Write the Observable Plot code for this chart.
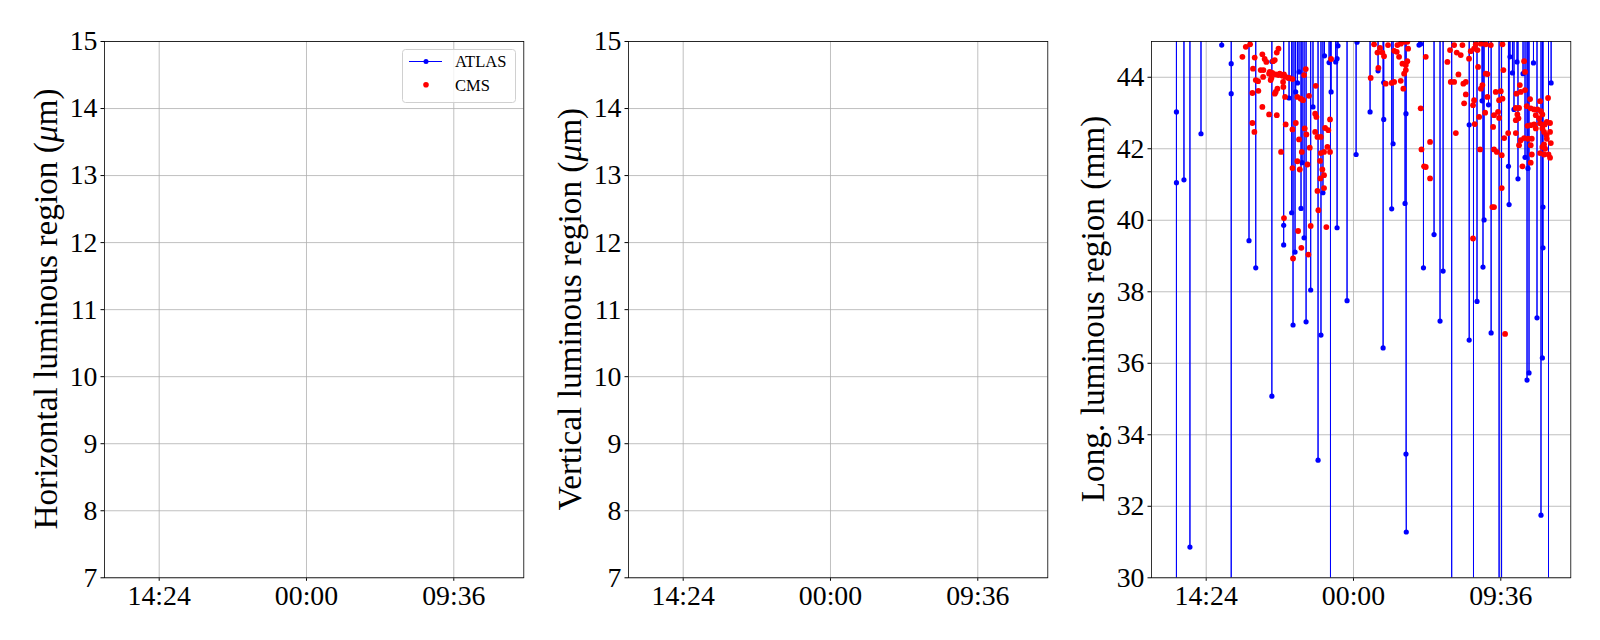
<!DOCTYPE html>
<html>
<head>
<meta charset="utf-8">
<script src="https://cdn.jsdelivr.net/npm/d3@7"></script>
<script src="https://cdn.jsdelivr.net/npm/@observablehq/plot@0.6"></script>
<style>
  html, body { margin: 0; padding: 0; background: #fff; }
  #page { position: relative; width: 1600px; height: 640px; overflow: hidden;
          font-family: "Liberation Serif", "Times New Roman", "DejaVu Serif", serif; }
  .panel { position: absolute; top: 0; }
  .ylabel { position: absolute; top: 309px; transform: translate(-50%, -50%) rotate(-90deg);
            white-space: nowrap; font-size: 33.3px; color: #000; line-height: 1;
            font-family: "Liberation Serif", "Times New Roman", "DejaVu Serif", serif; }
  .legend { position: absolute; }
</style>
</head>
<body>
<div id="page"></div>
<script>
// ---------------- data ----------------
// time is given as hours since 00:00 of the first day (24 = midnight of day 2)
const timeTickHours = [14.4, 24, 33.6];            // 14:24, 00:00, 09:36
const timeDomainHours = [10.835, 38.162];
const yTicksMicron = [7, 8, 9, 10, 11, 12, 13, 14, 15];
const yTicksMm = [30, 32, 34, 36, 38, 40, 42, 44];
const yLabels = ["Horizontal luminous region (<i>μ</i>m)", "Vertical luminous region (<i>μ</i>m)", "Long. luminous region (mm)"];
const seriesNames = ["ATLAS", "CMS"];

// ATLAS longitudinal luminous region [hour, mm]; readings outside the plotted range kept as 47 (above) or 0 (below)
const atlasSamples = [
  [12.46, 47], [12.46, 43.03], [12.46, 41.05], [12.46, 0], [12.46, 47],
  [12.95, 47], [12.95, 41.13], [12.95, 47],
  [13.34, 47], [13.34, 30.86], [13.34, 47],
  [14.06, 47], [14.06, 42.42], [14.06, 47],
  [15.41, 47], [15.41, 44.90], [15.41, 47],
  [16.03, 47], [16.03, 44.38], [16.03, 43.54], [16.03, 0], [16.03, 47],
  [17.19, 47], [17.19, 39.43], [17.19, 47],
  [17.63, 47], [17.63, 38.67], [17.63, 47],
  [18.68, 47], [18.68, 44.44], [18.68, 35.08], [18.68, 47],
  [19.45, 47], [19.45, 39.86], [19.45, 39.31], [19.45, 47],
  [19.80, 47], [19.80, 43.42], [19.80, 47],
  [19.97, 47], [19.97, 40.21], [19.97, 47],
  [20.06, 47], [20.06, 37.07], [20.06, 47],
  [20.19, 47], [20.19, 39.11], [20.19, 47],
  [20.23, 47], [20.23, 43.59], [20.23, 47],
  [20.35, 47], [20.35, 43.84], [20.35, 47],
  [20.45, 47], [20.45, 44.15], [20.45, 47],
  [20.58, 47], [20.58, 40.33], [20.58, 47],
  [20.65, 47], [20.65, 41.61], [20.65, 47],
  [20.78, 47], [20.78, 39.51], [20.78, 47],
  [20.91, 47], [20.91, 37.16], [20.91, 47],
  [21.21, 47], [21.21, 38.05], [21.21, 47],
  [21.36, 47], [21.36, 43.17], [21.36, 47],
  [21.69, 47], [21.69, 33.29], [21.69, 47],
  [21.88, 47], [21.88, 36.79], [21.88, 47],
  [22.01, 47], [22.01, 40.77], [22.01, 47],
  [22.11, 47], [22.11, 44.60], [22.11, 47],
  [22.41, 47], [22.41, 44.41], [22.41, 47],
  [22.50, 47], [22.50, 0], [22.50, 47],
  [22.54, 47], [22.54, 43.59], [22.54, 47],
  [22.84, 47], [22.84, 44.43], [22.84, 47],
  [22.93, 47], [22.93, 44.52], [22.93, 39.79], [22.93, 47],
  [22.99, 47], [22.99, 44.88], [22.99, 47],
  [23.58, 47], [23.58, 37.75], [23.58, 47],
  [24.17, 47], [24.17, 41.84], [24.17, 47],
  [24.23, 47], [24.23, 44.98], [24.23, 47],
  [25.08, 47], [25.08, 43.03], [25.08, 47],
  [25.60, 47], [25.60, 44.18], [25.60, 47],
  [25.93, 47], [25.93, 36.43], [25.93, 47],
  [25.97, 47], [25.97, 43.85], [25.97, 42.82], [25.97, 47],
  [26.49, 47], [26.49, 40.32], [26.49, 47],
  [26.58, 47], [26.58, 42.14], [26.58, 47],
  [27.36, 47], [27.36, 40.47], [27.36, 47],
  [27.42, 47], [27.42, 42.98], [27.42, 33.46], [27.44, 31.28], [27.44, 47],
  [28.27, 47], [28.27, 44.90], [28.27, 47],
  [28.38, 47], [28.38, 44.93], [28.38, 47],
  [28.56, 47], [28.56, 38.67], [28.56, 47],
  [29.25, 47], [29.25, 39.60], [29.25, 47],
  [29.64, 47], [29.64, 37.18], [29.64, 47],
  [29.84, 47], [29.84, 38.58], [29.84, 47],
  [30.40, 47], [30.40, 0], [30.40, 47],
  [31.54, 47], [31.54, 42.67], [31.54, 36.65], [31.54, 47],
  [31.82, 47], [31.82, 0], [31.82, 47],
  [32.05, 47], [32.05, 37.73], [32.05, 47],
  [32.38, 47], [32.38, 43.34], [32.38, 47],
  [32.44, 47], [32.44, 38.69], [32.44, 47],
  [32.51, 47], [32.51, 40.01], [32.51, 47],
  [32.80, 47], [32.80, 43.23], [32.80, 47],
  [32.97, 47], [32.97, 36.85], [32.97, 47],
  [33.49, 47], [33.49, 0], [33.49, 47],
  [33.65, 47], [33.65, 0], [33.65, 47],
  [34.10, 47], [34.10, 41.51], [34.10, 47],
  [34.14, 47], [34.14, 40.44], [34.14, 47],
  [34.20, 47], [34.20, 44.57], [34.20, 47],
  [34.36, 47], [34.36, 44.12], [34.36, 47],
  [34.46, 47], [34.46, 43.10], [34.46, 47],
  [34.66, 47], [34.66, 44.43], [34.66, 47],
  [34.72, 47], [34.72, 41.16], [34.72, 47],
  [35.05, 47], [35.05, 44.10], [35.05, 47],
  [35.18, 47], [35.18, 41.76], [35.18, 47],
  [35.31, 47], [35.31, 35.53], [35.31, 47],
  [35.37, 47], [35.37, 41.45], [35.37, 47],
  [35.44, 47], [35.44, 35.73], [35.44, 47],
  [35.73, 47], [35.73, 44.40], [35.73, 47],
  [35.96, 47], [35.96, 37.27], [35.96, 47],
  [36.22, 47], [36.22, 31.75], [36.22, 47],
  [36.31, 47], [36.31, 36.15], [36.31, 47],
  [36.35, 47], [36.35, 40.37], [36.35, 39.23], [36.35, 47],
  [36.71, 47], [36.71, 0], [36.71, 47],
  [36.88, 47], [36.88, 43.84], [36.88, 47]
];

// CMS longitudinal luminous region [hour, mm]
const cmsSamples = [
  [16.76, 44.57], [16.98, 44.85], [17.26, 44.92], [17.56, 44.55], [17.45, 44.24], [17.63, 43.92], [17.78, 43.89], [17.41, 43.56],
  [17.80, 43.62], [18.06, 44.64], [18.21, 44.51], [18.32, 44.43], [17.95, 44.20], [18.13, 44.20], [18.11, 44.01], [18.54, 44.15],
  [18.76, 44.45], [18.87, 44.48], [19.00, 44.69], [19.11, 44.80], [18.60, 43.92], [18.50, 44.10], [18.65, 43.98], [18.71, 44.12],
  [18.93, 44.08], [19.11, 44.06], [19.19, 44.10], [19.37, 44.04], [19.47, 44.08], [19.04, 43.68], [18.93, 43.59], [18.87, 43.54],
  [19.41, 43.87], [19.43, 43.73], [19.54, 43.45], [19.76, 43.98], [18.06, 43.17], [18.50, 42.96], [19.00, 42.94], [17.41, 42.72],
  [17.54, 42.47], [19.28, 41.91], [19.58, 42.68], [19.47, 40.06],
  [19.58, 44.01], [19.80, 43.98], [20.02, 43.95], [20.34, 43.45], [20.56, 43.40], [20.71, 43.36], [20.78, 44.06], [20.89, 44.23],
  [21.10, 43.48], [21.54, 43.76], [20.02, 42.54], [20.24, 42.72], [20.82, 42.57], [20.93, 42.40], [20.45, 42.26], [21.50, 42.98],
  [21.58, 42.89], [22.47, 42.82], [21.50, 42.47], [21.65, 42.33], [21.87, 42.33], [22.15, 42.58], [22.36, 42.52], [21.15, 42.03],
  [20.63, 41.91], [21.87, 41.88], [22.08, 41.91], [22.30, 42.05], [22.47, 41.91], [20.02, 41.46], [20.34, 41.65], [20.50, 41.42],
  [21.00, 41.56], [21.82, 41.66], [21.97, 41.42], [22.08, 41.26], [21.84, 41.17], [22.08, 40.90], [21.65, 40.82], [21.71, 40.28],
  [20.39, 39.70], [21.21, 39.84], [22.23, 39.81], [20.60, 39.23], [20.06, 38.93], [21.06, 39.04], [22.54, 44.51],
  [25.34, 44.92], [25.56, 44.69], [25.73, 44.82], [25.88, 44.69], [25.99, 44.59], [26.25, 44.90], [26.65, 44.74], [26.82, 44.71],
  [26.86, 44.90], [27.08, 44.94], [27.30, 44.99], [27.51, 44.99], [26.97, 44.57], [27.19, 44.38], [27.41, 44.34], [27.51, 44.45],
  [27.41, 44.20], [27.30, 44.10], [27.08, 43.90], [26.65, 43.87], [26.49, 43.84], [26.10, 43.82], [25.62, 44.26], [25.12, 43.98],
  [27.25, 43.68], [28.38, 43.13], [28.43, 41.98], [28.60, 41.51], [27.56, 44.80],
  [28.71, 44.57], [28.99, 42.19], [28.71, 41.49], [28.99, 41.17], [30.12, 44.43], [30.29, 44.76], [30.56, 44.90], [30.73, 44.69],
  [30.99, 44.62], [31.10, 44.90], [30.34, 43.87], [30.56, 43.87], [30.84, 44.08], [31.16, 43.82], [31.32, 43.87], [31.53, 44.52],
  [31.64, 44.73], [31.86, 44.80], [32.08, 44.76], [31.97, 44.92], [32.30, 44.94], [32.62, 44.92], [32.95, 44.90], [33.71, 44.92],
  [32.12, 44.29], [32.62, 44.10], [32.73, 44.09], [32.40, 43.78], [32.30, 43.68], [32.73, 43.45], [33.27, 43.59], [33.60, 43.61],
  [33.49, 43.36], [33.71, 43.40], [33.77, 44.20], [31.32, 43.52], [31.21, 43.27], [31.86, 43.36], [31.79, 43.22], [32.58, 43.01],
  [33.42, 43.03], [33.16, 42.94], [33.49, 42.86], [32.19, 42.89], [31.90, 42.69], [33.10, 42.61], [33.82, 42.30], [34.08, 42.44],
  [30.67, 42.44], [32.25, 41.98], [33.16, 41.98], [33.34, 41.91], [33.66, 41.82], [33.66, 40.90], [33.05, 40.37], [33.16, 40.37],
  [31.79, 39.49], [34.62, 43.54], [34.84, 43.78], [35.18, 43.64], [34.90, 43.59], [35.12, 44.45], [35.18, 44.15], [35.51, 43.39],
  [36.16, 43.33], [36.68, 43.42], [34.58, 43.14], [34.79, 43.14], [35.29, 43.19], [35.55, 43.13], [35.77, 43.10], [35.99, 43.10],
  [36.21, 43.05], [34.68, 42.96], [34.75, 42.85], [34.58, 42.80], [35.88, 42.94], [36.10, 42.85], [36.31, 42.96], [35.34, 42.64],
  [35.55, 42.66], [35.88, 42.57], [36.16, 42.71], [36.47, 42.68], [36.60, 42.75], [36.81, 42.72], [35.77, 42.68], [36.31, 42.57],
  [36.42, 42.47], [36.81, 42.47], [34.58, 42.44], [35.12, 42.30], [34.90, 42.24], [35.38, 42.28], [34.79, 42.10], [35.62, 42.28],
  [35.55, 42.10], [36.60, 42.28], [36.86, 42.16], [36.42, 42.12], [36.58, 42.38], [36.31, 42.05], [36.49, 42.00], [36.16, 41.88],
  [36.42, 41.84], [36.71, 41.84], [36.81, 41.75], [35.62, 41.84], [35.01, 41.51], [35.55, 41.61], [33.88, 36.82]
];

// ---------------- drawing ----------------
const base = Date.UTC(2018, 9, 1);
const toDate = h => new Date(base + h * 3600e3);
const xDomain = timeDomainHours.map(toDate);
const xTickDates = timeTickHours.map(toDate);
const atlas = atlasSamples.map(([h, v]) => ({t: toDate(h), v}));
const cms = cmsSamples.map(([h, v]) => ({t: toDate(h), v}));

const page = document.getElementById("page");
const frameLefts = [104, 627.7, 1151.4];
const frameWidth = 419.3;
const mL = 100, mR = 4;

function makePanel(i, yDomain, yTicks, dataMarks) {
  const chart = Plot.plot({
    width: mL + frameWidth + mR,
    height: 640,
    marginLeft: mL, marginRight: mR, marginTop: 41, marginBottom: 62.7,
    style: {fontFamily: '"Liberation Serif", "Times New Roman", serif', fontSize: "27.8px", color: "black", background: "transparent", overflow: "visible"},
    x: {type: "utc", domain: xDomain, ticks: xTickDates, tickFormat: d3.utcFormat("%H:%M"), tickSize: 3.5, tickPadding: 3.5, label: null},
    y: {domain: yDomain, ticks: yTicks, tickSize: 3.5, tickPadding: 3.5, label: null},
    marks: [
      Plot.ruleY(yTicks, {stroke: "#b0b0b0", strokeWidth: 0.8}),
      Plot.ruleX(xTickDates, {stroke: "#b0b0b0", strokeWidth: 0.8}),
      ...dataMarks,
      Plot.frame({stroke: "black", strokeWidth: 0.8})
    ]
  });
  chart.classList.add("panel");
  chart.style.left = (frameLefts[i] - mL) + "px";
  page.appendChild(chart);
  const lab = document.createElement("div");
  lab.className = "ylabel";
  lab.style.left = (frameLefts[i] - 58) + "px";
  lab.innerHTML = yLabels[i];
  page.appendChild(lab);
}

makePanel(0, [7, 15], yTicksMicron, []);
makePanel(1, [7, 15], yTicksMicron, []);
makePanel(2, [30, 45], yTicksMm, [
  Plot.line(atlas, {x: "t", y: "v", stroke: "blue", strokeWidth: 1, clip: true}),
  Plot.dot(atlas, {x: "t", y: "v", r: 2.6, fill: "blue", stroke: "none", clip: true}),
  Plot.dot(cms, {x: "t", y: "v", r: 2.9, fill: "red", stroke: "none", clip: true})
]);

// legend (first panel, upper right)
const lg = d3.create("svg").attr("class", "legend")
  .attr("width", 114).attr("height", 54)
  .style("left", "401.5px").style("top", "48.5px");
lg.append("rect").attr("x", 0.5).attr("y", 0.5).attr("width", 113).attr("height", 53)
  .attr("rx", 3).attr("fill", "white").attr("fill-opacity", 0.8).attr("stroke", "#d0d0d0");
lg.append("line").attr("x1", 7).attr("x2", 40).attr("y1", 12.5).attr("y2", 12.5).attr("stroke", "blue").attr("stroke-width", 1);
lg.append("circle").attr("cx", 24).attr("cy", 12.5).attr("r", 2.5).attr("fill", "blue");
lg.append("circle").attr("cx", 24).attr("cy", 35.8).attr("r", 2.8).attr("fill", "red");
lg.append("text").attr("x", 53).attr("y", 18.2).text(seriesNames[0])
  .attr("font-family", '"Liberation Serif", "Times New Roman", serif').attr("font-size", 16.5);
lg.append("text").attr("x", 53).attr("y", 41.5).text(seriesNames[1])
  .attr("font-family", '"Liberation Serif", "Times New Roman", serif').attr("font-size", 16.5);
page.appendChild(lg.node());
</script>
</body>
</html>
